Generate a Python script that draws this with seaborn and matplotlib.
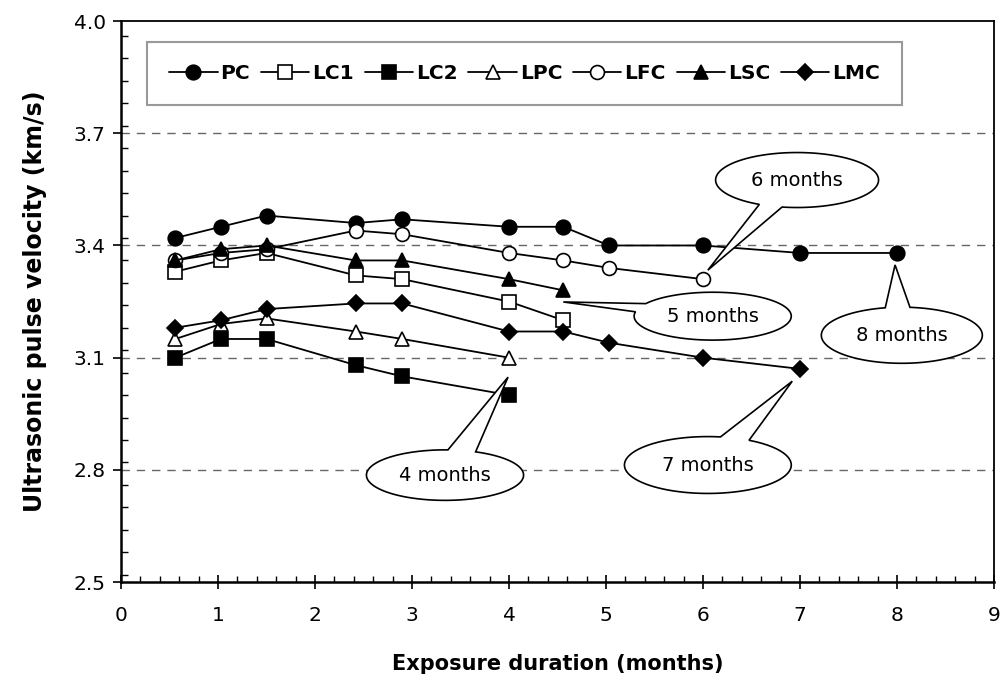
import numpy as np
import pandas as pd
import matplotlib
matplotlib.use("Agg")
import matplotlib.pyplot as plt
from matplotlib.patches import Polygon
from matplotlib.ticker import MultipleLocator
import seaborn as sns

# ---------------- data ----------------
months = [0.56, 1.03, 1.5, 2.42, 2.9, 4.0, 4.56, 5.03, 6.0, 7.0, 8.0]
series_names = ["PC", "LC1", "LC2", "LPC", "LFC", "LSC", "LMC"]
PC = [3.42, 3.45, 3.48, 3.46, 3.47, 3.45, 3.45, 3.40, 3.40, 3.38, 3.38]
LC1 = [3.33, 3.36, 3.38, 3.32, 3.31, 3.25, 3.20]
LC2 = [3.10, 3.15, 3.15, 3.08, 3.05, 3.00]
LPC = [3.15, 3.19, 3.205, 3.17, 3.15, 3.10]
LFC = [3.36, 3.38, 3.39, 3.44, 3.43, 3.38, 3.36, 3.34, 3.31]
LSC = [3.36, 3.39, 3.40, 3.36, 3.36, 3.31, 3.28]
LMC = [3.18, 3.20, 3.23, 3.245, 3.245, 3.17, 3.17, 3.14, 3.10, 3.07]
values = {"PC": PC, "LC1": LC1, "LC2": LC2, "LPC": LPC,
          "LFC": LFC, "LSC": LSC, "LMC": LMC}

y_ticks = [2.5, 2.8, 3.1, 3.4, 3.7, 4.0]
y_tick_labels = ["2.5", "2.8", "3.1", "3.4", "3.7", "4.0"]

callout_texts = ["4 months", "5 months", "6 months", "7 months", "8 months"]
# ellipse centre (x, y), width, height, tip, two base points (data coords)
callout_geom = [
    ((3.34, 2.786), 1.62, 0.135, (3.99, 3.048), (3.37, 2.853), (3.68, 2.853)),
    ((6.10, 3.211), 1.62, 0.128, (4.56, 3.249), (5.38, 3.246), (5.35, 3.222)),
    ((6.97, 3.575), 1.68, 0.147, (6.05, 3.334), (6.54, 3.503), (6.82, 3.505)),
    ((6.05, 2.813), 1.72, 0.152, (6.92, 3.037), (6.18, 2.888), (6.48, 2.880)),
    ((8.05, 3.160), 1.66, 0.150, (7.98, 3.348), (7.88, 3.233), (8.15, 3.249)),
]

rows = []
for name in series_names:
    for x, y in zip(months, values[name]):
        rows.append({"series": name, "months": x, "upv": y})
df = pd.DataFrame(rows)

styles = {
    "PC": dict(marker="o", mfc="black", ms=10.5),
    "LC1": dict(marker="s", mfc="white", ms=9.5),
    "LC2": dict(marker="s", mfc="black", ms=9.5),
    "LPC": dict(marker="^", mfc="white", ms=10.5),
    "LFC": dict(marker="o", mfc="white", ms=10),
    "LSC": dict(marker="^", mfc="black", ms=10.5),
    "LMC": dict(marker="D", mfc="black", ms=8.5),
}

sns.set_style("white")
plt.rcParams["font.family"] = ["DejaVu Sans"]
plt.rcParams["text.color"] = "black"
plt.rcParams["axes.labelcolor"] = "black"
plt.rcParams["xtick.color"] = "black"
plt.rcParams["ytick.color"] = "black"

fig, ax = plt.subplots(figsize=(10.02, 6.8), dpi=100)
fig.subplots_adjust(left=0.1208, right=0.992, top=0.969, bottom=0.144)

for y in y_ticks[1:-1]:
    ax.axhline(y, color="#666666", lw=1.0, ls=(0, (6, 5)), zorder=1)

for name in series_names:
    sub = df[df["series"] == name]
    st = styles[name]
    sns.lineplot(data=sub, x="months", y="upv", ax=ax, color="black",
                 lw=1.3, marker=st["marker"], markersize=st["ms"],
                 markerfacecolor=st["mfc"], markeredgecolor="black",
                 markeredgewidth=1.2, label=name, sort=False, zorder=3)

# callouts
for txt, (c, w, h, tip, b1, b2) in zip(callout_texts, callout_geom):
    cx, cy = c
    a = []
    for bx, by in (b1, b2):
        a.append(np.arctan2((by - cy) / (h / 2), (bx - cx) / (w / 2)))
    a1, a2 = a
    d = (a2 - a1) % (2 * np.pi)
    if d > np.pi:
        a1, a2 = a2, a1
    t = np.linspace(a2, a1 + 2 * np.pi if a1 < a2 else a1, 200)
    pts = [tip] + list(zip(cx + w / 2 * np.cos(t), cy + h / 2 * np.sin(t)))
    ax.add_patch(Polygon(pts, closed=True, facecolor="white",
                         edgecolor="black", lw=1.2, zorder=6))
    ax.text(cx, cy, txt, ha="center", va="center", fontsize=14,
            color="black", zorder=7)

ax.set_xlim(0, 9)
ax.set_ylim(2.5, 4.0)
ax.xaxis.set_major_locator(MultipleLocator(1))
ax.xaxis.set_minor_locator(MultipleLocator(0.2))
ax.yaxis.set_minor_locator(MultipleLocator(0.06))
ax.set_yticks(y_ticks)
ax.set_yticklabels(y_tick_labels)

ax.tick_params(axis="y", which="major", direction="out", length=6,
               width=1.2, labelsize=14.5, pad=5, left=True,
               labelcolor="black")
ax.tick_params(axis="y", which="minor", direction="in", length=5,
               width=1.0, left=True)
ax.tick_params(axis="x", which="major", direction="inout", length=10,
               width=1.2, labelsize=14.5, pad=12, bottom=True,
               labelcolor="black")
ax.tick_params(axis="x", which="minor", direction="in", length=4,
               width=1.0, bottom=True)

for s in ["left", "bottom"]:
    ax.spines[s].set_linewidth(1.8)
for s in ["top", "right"]:
    ax.spines[s].set_linewidth(1.3)
for s in ax.spines.values():
    s.set_color("black")

ax.set_xlabel("Exposure duration (months)", fontsize=15, fontweight="bold",
              color="black")
ax.set_ylabel("Ultrasonic pulse velocity (km/s)", fontsize=17,
              fontweight="bold", color="black")
ax.xaxis.set_label_coords(0.5, -0.128)
ax.yaxis.set_label_coords(-0.085, 0.5)

leg = ax.legend(loc="center", ncol=7, mode="expand",
                bbox_to_anchor=(0.0298, 0.845, 0.865, 0.123),
                frameon=True, fancybox=False, borderpad=1.1,
                handlelength=2.4, handletextpad=0.15, columnspacing=0.5,
                prop={"weight": "bold", "size": 14.5}, borderaxespad=0)
leg.get_frame().set_edgecolor("#808080")
leg.get_frame().set_linewidth(1.5)
for t in leg.get_texts():
    t.set_color("black")

fig.savefig("out.png", dpi=100)
